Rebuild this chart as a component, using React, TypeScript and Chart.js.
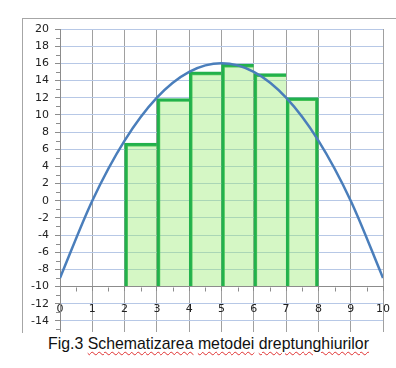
import React, { useEffect, useRef } from 'react';
import { Chart, registerables } from 'chart.js';

Chart.register(...registerables);

// Curve (x, y)
const curveX = [0, 1, 2, 3, 4, 5, 6, 7, 8, 9, 10];
const curveY = [-9, 0, 7, 12, 15, 16, 15, 12, 7, 0, -9];

// Rectangles: left edge, width and height
const barLeft = [2, 3, 4, 5, 6, 7];
const barWidth = 1;
const barValues = [6.7, 11.9, 15.0, 15.9, 14.8, 12.0];
const barBase = -10;

// Axes
const xTicks = [0, 1, 2, 3, 4, 5, 6, 7, 8, 9, 10];
const yTicks = [-14, -12, -10, -8, -6, -4, -2, 0, 2, 4, 6, 8, 10, 12, 14, 16, 18, 20];
const xMin = 0;
const xMax = 10;
const yMin = -15.3;
const yMax = 20;
const xAxisCrossAt = -10;

const captionWords = ['Fig.3', 'Schematizarea', 'metodei', 'dreptunghiurilor'];

const AXIS_COLOR = '#8c8c8c';

const minorTicksPlugin = {
  id: 'minorTicks',
  afterDraw(chart: any) {
    const { ctx } = chart;
    const x = chart.scales.x;
    const y = chart.scales.y;
    ctx.save();
    ctx.strokeStyle = AXIS_COLOR;
    ctx.lineWidth = 1;
    y.ticks.forEach((t: any) => {
      const v = t.value - 1;
      if (v >= y.min) {
        const py = Math.round(y.getPixelForValue(v)) + 0.5;
        ctx.beginPath();
        ctx.moveTo(x.left - 4, py);
        ctx.lineTo(x.left, py);
        ctx.stroke();
      }
    });
    const axisY = Math.round(y.getPixelForValue(xAxisCrossAt)) + 0.5;
    x.ticks.forEach((t: any) => {
      const v = t.value + 0.5;
      if (v <= x.max) {
        const px = Math.round(x.getPixelForValue(v)) + 0.5;
        ctx.beginPath();
        ctx.moveTo(px, axisY);
        ctx.lineTo(px, axisY + 4);
        ctx.stroke();
      }
    });
    ctx.restore();
  },
};

export default function App() {
  const canvasRef = useRef<HTMLCanvasElement | null>(null);

  useEffect(() => {
    const canvas = canvasRef.current;
    if (!canvas) return;
    const lastBar = barValues.length - 1;
    const chart = new Chart(canvas, {
      type: 'line',
      data: {
        datasets: [
          {
            type: 'line',
            data: curveX.map((x, i) => ({ x, y: curveY[i] })),
            borderColor: '#4a7ebb',
            borderWidth: 2.5,
            pointRadius: 0,
            fill: false,
            cubicInterpolationMode: 'monotone',
            order: 0,
          } as any,
          {
            type: 'bar',
            data: barLeft.map((l, i) => ({ x: l + barWidth / 2, y: barValues[i] })),
            base: barBase,
            backgroundColor: 'rgba(150, 235, 110, 0.4)',
            borderColor: '#22b14c',
            borderSkipped: false,
            borderWidth: (c: any) => ({
              left: 3,
              top: 3,
              right: c.dataIndex === lastBar ? 3 : 0,
              bottom: 0,
            }),
            barPercentage: 1,
            categoryPercentage: 1,
            order: 1,
          } as any,
        ],
      },
      options: {
        animation: false,
        responsive: false,
        maintainAspectRatio: false,
        layout: { padding: { top: 10, right: 13, bottom: 0, left: 0 } },
        plugins: {
          legend: { display: false },
          tooltip: { enabled: false },
          title: { display: false },
        },
        scales: {
          x: {
            type: 'linear',
            min: xMin,
            max: xMax,
            offset: false,
            position: { y: xAxisCrossAt } as any,
            afterBuildTicks: (s: any) => {
              s.ticks = xTicks.map((v) => ({ value: v }));
            },
            afterFit: (s: any) => {
              s.paddingTop = 0;
              s.paddingBottom = 0;
              s.paddingLeft = 0;
              s.paddingRight = 0;
              s.height = 0;
            },
            ticks: {
              autoSkip: false,
              maxRotation: 0,
              color: '#222',
              padding: 12,
              font: { family: 'DejaVu Sans', size: 11 },
            },
            grid: {
              offset: false,
              color: '#a0a0a0',
              tickColor: AXIS_COLOR,
              tickLength: 4,
              lineWidth: 1,
            },
            border: { display: true, color: AXIS_COLOR },
          },
          y: {
            type: 'linear',
            min: yMin,
            max: yMax,
            position: 'left',
            afterBuildTicks: (s: any) => {
              s.ticks = yTicks.map((v) => ({ value: v }));
            },
            afterFit: (s: any) => {
              s.width = 37;
              s.paddingTop = 0;
              s.paddingBottom = 0;
            },
            ticks: {
              color: '#222',
              padding: 6,
              font: { family: 'DejaVu Sans', size: 11 },
            },
            grid: { offset: false, color: '#b7c8e6', tickColor: AXIS_COLOR, tickLength: 5, lineWidth: 1 },
            border: { display: true, color: AXIS_COLOR },
          },
        },
      },
      plugins: [minorTicksPlugin],
    } as any);
    return () => chart.destroy();
  }, []);

  const wavy: React.CSSProperties = {
    textDecorationLine: 'underline',
    textDecorationStyle: 'wavy',
    textDecorationColor: '#e03030',
    textDecorationThickness: '1px',
    textUnderlineOffset: '2px',
  };

  return (
    <div
      style={{
        position: 'absolute',
        left: 0,
        top: 0,
        width: 396,
        height: 368,
        overflow: 'hidden',
        background: '#fff',
      }}
    >
      <div
        style={{
          position: 'absolute',
          left: 22,
          top: 18,
          width: 400,
          height: 314,
          overflow: 'hidden',
          borderLeft: '1px solid #a6a6a6',
          borderTop: '1px solid #a6a6a6',
        }}
      >
        <canvas
          ref={canvasRef}
          width={373}
          height={313}
          style={{ display: 'block', width: 373, height: 313 }}
        />
      </div>
      <div
        style={{
          position: 'absolute',
          left: 48,
          top: 334,
          whiteSpace: 'nowrap',
          fontFamily: 'Liberation Sans, sans-serif',
          fontSize: 17,
          color: '#111',
          transformOrigin: '0 0',
          transform: 'scaleX(0.933)',
        }}
      >
        {captionWords.map((w, i) => (
          <React.Fragment key={i}>
            {i > 0 ? ' ' : ''}
            <span style={i === 0 ? undefined : wavy}>{w}</span>
          </React.Fragment>
        ))}
      </div>
    </div>
  );
}
